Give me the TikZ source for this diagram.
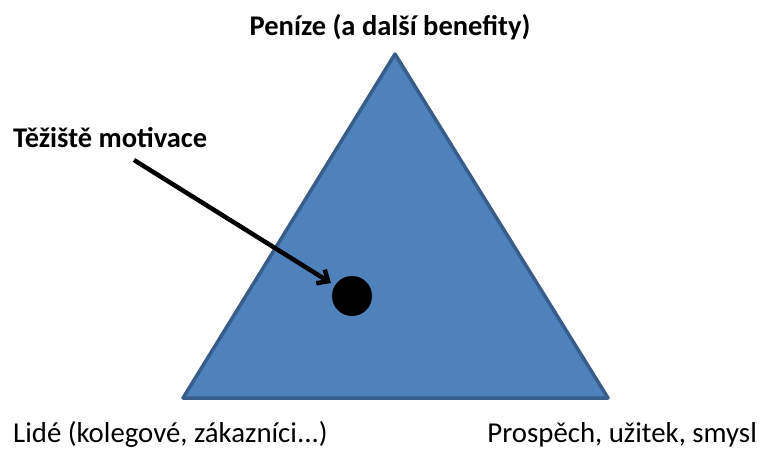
\documentclass[tikz,border=0pt]{standalone}
\usepackage{fontspec}
\setmainfont{Carlito}
\usetikzlibrary{arrows.meta}
\definecolor{triFill}{HTML}{4F81BD}
\definecolor{triLine}{HTML}{385D8A}
\tikzset{
  lblbold/.style={font=\fontsize{28.5}{32}\selectfont\bfseries, inner sep=0pt},
  lblreg/.style={font=\fontsize{28.8}{32}\selectfont, inner sep=0pt},
}
\begin{document}
\begin{tikzpicture}[x=1pt,y=-1pt]
\useasboundingbox (0,0) rectangle (760,450);
\coordinate (A) at (395,54);
\coordinate (B) at (183,398);
\coordinate (C) at (608,398);
\draw[fill=triFill, draw=triLine, line width=3.5pt, line join=round] (A) -- (B) -- (C) -- cycle;
\node[lblbold] (top) at (390,27) {Peníze (a další benefity)};
\node[lblbold, anchor=west] (tez) at (13,138) {Těžiště motivace};
\node[lblreg, anchor=west] (lide) at (13,434.5) {Lidé (kolegové, zákazníci...)};
\node[lblreg, anchor=east] (pros) at (757,434.5) {Prospěch, užitek, smysl};
\node[circle, fill=black, minimum size=40pt, inner sep=0pt] (dot) at (352,296) {};
\coordinate (start) at (134,160);
\draw[line width=4.5pt, -{Straight Barb[length=9pt,width=16pt]}] (start) -- (331,283);
\end{tikzpicture}
\end{document}
